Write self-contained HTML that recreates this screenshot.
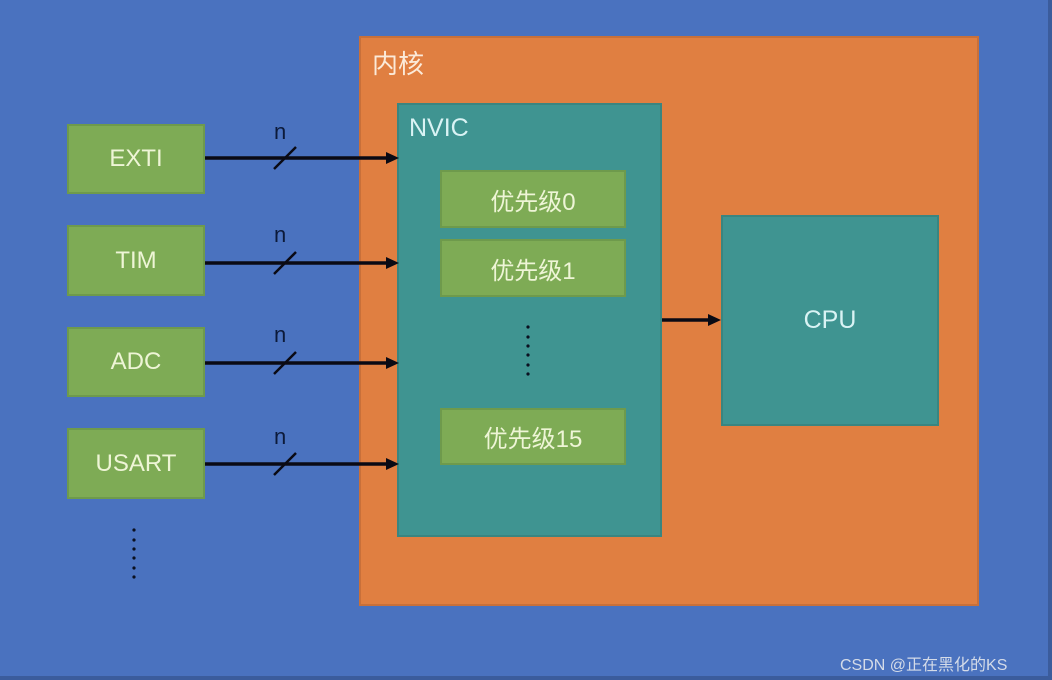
<!DOCTYPE html>
<html><head><meta charset="utf-8"><style>
html,body{margin:0;padding:0;}
body{width:1052px;height:680px;background:#4a72bf;position:relative;overflow:hidden;font-family:"Liberation Sans","Noto Sans CJK SC",sans-serif;}
.b{position:absolute;box-sizing:border-box;}
.g{background:#7eab55;border:2px solid #6e9a4c;color:#eef5d6;font-size:24px;display:flex;align-items:center;justify-content:center;}
.t{position:absolute;}
</style></head><body>
<div class="b" style="left:359px;top:36px;width:620px;height:570px;background:#e07f41;border:2px solid #c8703a;"></div>
<div class="t" style="left:372px;top:44px;font-size:26px;color:#fbead9;">内核</div>
<div class="b" style="left:397px;top:103px;width:265px;height:434px;background:#3f9491;border:2px solid #3a8580;"></div>
<div class="t" style="left:409px;top:114px;font-size:25px;color:#d9f3f4;">NVIC</div>
<div class="b g" style="left:440px;top:170px;width:186px;height:58px;">优先级0</div>
<div class="b g" style="left:440px;top:239px;width:186px;height:58px;">优先级1</div>
<div class="b g" style="left:440px;top:408px;width:186px;height:57px;">优先级15</div>
<div class="b" style="left:721px;top:215px;width:218px;height:211px;background:#3f9491;border:2px solid #3a8580;color:#d9f3f4;font-size:25px;display:flex;align-items:center;justify-content:center;">CPU</div>
<div class="b g" style="left:67px;top:124px;width:138px;height:70px;">EXTI</div>
<div class="b g" style="left:67px;top:225px;width:138px;height:71px;">TIM</div>
<div class="b g" style="left:67px;top:327px;width:138px;height:70px;">ADC</div>
<div class="b g" style="left:67px;top:428px;width:138px;height:71px;">USART</div>
<svg width="1052" height="680" style="position:absolute;left:0;top:0;">
<g stroke="#0a0a14" stroke-width="3.5" fill="#0a0a14">
<line x1="205" y1="158" x2="386" y2="158"/><polygon points="386,152 399,158 386,164" stroke="none"/>
<line x1="274" y1="169" x2="296" y2="147" stroke-width="2.5"/>
<line x1="205" y1="263" x2="386" y2="263"/><polygon points="386,257 399,263 386,269" stroke="none"/>
<line x1="274" y1="274" x2="296" y2="252" stroke-width="2.5"/>
<line x1="205" y1="363" x2="386" y2="363"/><polygon points="386,357 399,363 386,369" stroke="none"/>
<line x1="274" y1="374" x2="296" y2="352" stroke-width="2.5"/>
<line x1="205" y1="464" x2="386" y2="464"/><polygon points="386,458 399,464 386,470" stroke="none"/>
<line x1="274" y1="475" x2="296" y2="453" stroke-width="2.5"/>
<line x1="662" y1="320" x2="708" y2="320"/><polygon points="708,314 721,320 708,326" stroke="none"/>
</g>
<g fill="#0a1020">
<circle cx="528" cy="327" r="1.6"/><circle cx="528" cy="337" r="1.6"/><circle cx="528" cy="346" r="1.6"/><circle cx="528" cy="355" r="1.6"/><circle cx="528" cy="365" r="1.6"/><circle cx="528" cy="374" r="1.6"/>
<circle cx="134" cy="530" r="1.6"/><circle cx="134" cy="540" r="1.6"/><circle cx="134" cy="549" r="1.6"/><circle cx="134" cy="558" r="1.6"/><circle cx="134" cy="568" r="1.6"/><circle cx="134" cy="577" r="1.6"/>
</g>
<g font-family="Liberation Sans, sans-serif" font-size="22" fill="#0c1a3a">
<text x="274" y="139">n</text><text x="274" y="242">n</text><text x="274" y="342">n</text><text x="274" y="444">n</text>
</g>
</svg>
<div class="t" style="left:840px;top:651px;font-size:16px;color:#d4dbe8;">CSDN @正在黑化的KS</div>
<div class="b" style="left:1048px;top:0;width:4px;height:680px;background:#3b5c9c;"></div>
<div class="b" style="left:0;top:676px;width:1052px;height:4px;background:#3b5c9c;"></div>
</body></html>
